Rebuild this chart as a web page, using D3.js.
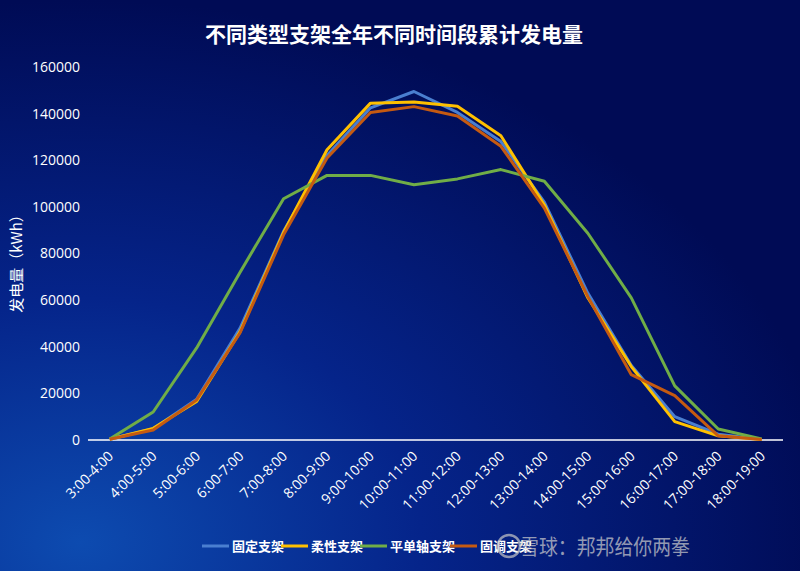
<!DOCTYPE html>
<html>
<head>
<meta charset="utf-8">
<script src="https://cdn.jsdelivr.net/npm/d3@7"></script>
<style>
  body { margin: 0; background: #001060; }
  svg { display: block; font-family: "Noto Sans CJK SC", "Noto Sans", sans-serif; }
</style>
</head>
<body>
<svg id="chart" width="800" height="571"></svg>
<script>
var hours = ['3:00-4:00', '4:00-5:00', '5:00-6:00', '6:00-7:00', '7:00-8:00', '8:00-9:00',
    '9:00-10:00', '10:00-11:00', '11:00-12:00', '12:00-13:00', '13:00-14:00', '14:00-15:00',
    '15:00-16:00', '16:00-17:00', '17:00-18:00', '18:00-19:00'];
var fixed = [300, 4800, 17500, 48000, 89500, 122000, 142500, 149500, 140500, 128000, 102000, 63000, 32000, 10000, 2500, 200];
var flexible = [300, 5000, 16500, 46500, 89000, 124500, 144500, 145000, 143200, 130500, 100800, 61000, 31500, 7900, 1800, 200];
var singleAxis = [400, 12000, 39500, 72000, 103500, 113500, 113500, 109500, 112000, 116000, 111000, 88700, 61000, 23200, 4700, 400];
var adjustable = [300, 4300, 17200, 46000, 88000, 121000, 140500, 143000, 139000, 126000, 99500, 61500, 28000, 19000, 1800, 200];
var seriesNames = ['固定支架', '柔性支架', '平单轴支架', '固调支架'];
var yTicks = [0, 20000, 40000, 60000, 80000, 100000, 120000, 140000, 160000];

var colors = ['#4a7fd0', '#ffc000', '#70ad47', '#c55a11'];
var series = [fixed, flexible, singleAxis, adjustable];

var svg = d3.select('#chart');

// background
var defs = svg.append('defs');
var bg = defs.append('radialGradient').attr('id', 'bg')
    .attr('cx', '10%').attr('cy', '95%').attr('r', '95%');
bg.append('stop').attr('offset', '0%').attr('stop-color', '#0d4bb0');
bg.append('stop').attr('offset', '45%').attr('stop-color', '#05248a');
bg.append('stop').attr('offset', '100%').attr('stop-color', '#000b55');
svg.append('rect').attr('width', 800).attr('height', 571).attr('fill', 'url(#bg)');

var x = d3.scalePoint().domain(hours).range([109.7, 761.7]);
var y = d3.scaleLinear().domain([0, 160000]).range([440, 67]);

svg.append('text')
    .attr('x', 394).attr('y', 42)
    .attr('text-anchor', 'middle')
    .attr('fill', '#fff')
    .attr('font-size', 21).attr('font-weight', 'bold')
    .text('不同类型支架全年不同时间段累计发电量');

// y axis
var yAxis = svg.append('g')
    .attr('transform', 'translate(80,0)')
    .call(d3.axisLeft(y).tickValues(yTicks).tickSize(0).tickPadding(0).tickFormat(d3.format('d')));
yAxis.select('.domain').remove();
yAxis.selectAll('text').attr('fill', '#fff').attr('font-size', 14)
    .attr('font-family', '"Open Sans", "Noto Sans", sans-serif');

svg.append('text')
    .attr('transform', 'translate(22,260) rotate(-90)')
    .attr('text-anchor', 'middle')
    .attr('fill', '#fff').attr('font-size', 15)
    .text('发电量（kWh）');

// x axis
var xAxis = svg.append('g')
    .attr('transform', 'translate(0,440)')
    .call(d3.axisBottom(x).tickSize(0).tickPadding(0));
xAxis.select('.domain').remove();
svg.append('line')
    .attr('x1', 88).attr('x2', 783).attr('y1', 440).attr('y2', 440)
    .attr('stroke', '#fff').attr('stroke-width', 1.5);
xAxis.selectAll('text')
    .attr('fill', '#fff').attr('font-size', 14)
    .attr('font-family', '"Open Sans", "Noto Sans", sans-serif')
    .attr('text-anchor', 'end')
    .attr('dy', 0)
    .attr('transform', 'translate(4,17) rotate(-45)');

// lines
var line = d3.line()
    .x(function(d, i) { return x(hours[i]); })
    .y(function(d) { return y(d); });

series.forEach(function(s, i) {
    svg.append('path')
        .datum(s)
        .attr('fill', 'none')
        .attr('stroke', colors[i])
        .attr('stroke-width', 3)
        .attr('stroke-linejoin', 'round')
        .attr('d', line);
});

// legend
var legendX = [202, 281, 360, 450];
var legend = svg.selectAll('g.legend')
    .data(seriesNames)
    .enter().append('g')
    .attr('class', 'legend')
    .attr('transform', function(d, i) { return 'translate(' + legendX[i] + ',546)'; });
legend.append('line')
    .attr('x1', 0).attr('x2', 27).attr('y1', 0).attr('y2', 0)
    .attr('stroke', function(d, i) { return colors[i]; })
    .attr('stroke-width', 3);
legend.append('text')
    .attr('x', 30).attr('y', 5)
    .attr('fill', '#fff').attr('font-size', 13).attr('font-weight', 'bold')
    .text(function(d) { return d; });

// watermark
var wm = svg.append('g').attr('opacity', 0.7);
wm.append('circle').attr('cx', 509).attr('cy', 546).attr('r', 11)
    .attr('fill', 'none').attr('stroke', '#c8c8c8').attr('stroke-width', 2.5);
wm.append('text')
    .attr('x', 520).attr('y', 554)
    .attr('fill', '#d0d0d0').attr('font-size', 21)
    .attr('textLength', 170).attr('lengthAdjust', 'spacingAndGlyphs')
    .text('雪球：邦邦给你两拳');
</script>
</body>
</html>
